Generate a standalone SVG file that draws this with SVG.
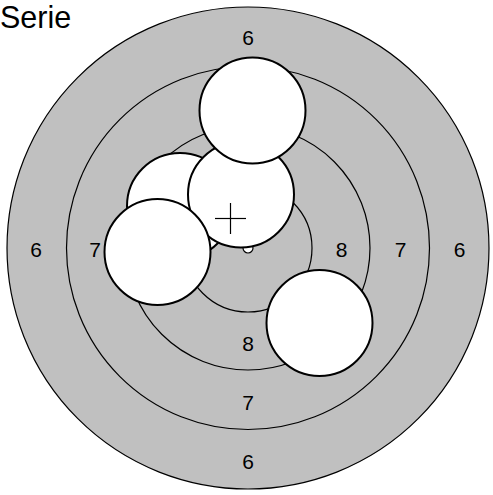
<svg xmlns="http://www.w3.org/2000/svg" width="493" height="495" viewBox="0 0 493 495">
<style>
.ring{fill:#c0c0c0;stroke:#000;stroke-width:1.2}
.shot{fill:#fff;stroke:#000;stroke-width:2}
.lbl{font-family:"Liberation Sans",Arial,sans-serif;font-size:21px;text-anchor:middle;fill:#000}
.title{font-family:"Liberation Sans",Arial,sans-serif;font-size:30.5px;fill:#000}
</style>
<rect width="493" height="495" fill="#fff"/>
<text class="title" x="0" y="27.5">Serie</text>
<g id="target">
<circle class="ring" cx="248" cy="248" r="241"/>
<circle class="ring" cx="248" cy="248" r="181.5"/>
<circle class="ring" cx="248" cy="248" r="122"/>
<circle class="ring" cx="248" cy="248" r="64"/>
<circle cx="248" cy="248" r="5" fill="#fff" stroke="#000" stroke-width="1.2"/>
</g>
<g id="labels">
<text class="lbl" x="248" y="44.5">6</text>
<text class="lbl" x="248" y="468.5">6</text>
<text class="lbl" x="248" y="410">7</text>
<text class="lbl" x="248" y="351">8</text>
<text class="lbl" x="36" y="256.5">6</text>
<text class="lbl" x="95" y="256.5">7</text>
<text class="lbl" x="341.5" y="256.5">8</text>
<text class="lbl" x="400.5" y="256.5">7</text>
<text class="lbl" x="459.5" y="256.5">6</text>
</g>
<g id="shots">
<circle id="shot2" class="shot" cx="180" cy="206" r="53"/>
<circle id="shot3" class="shot" cx="241" cy="194.5" r="53"/>
<circle id="shot1" class="shot" cx="252.5" cy="110.5" r="53"/>
<circle id="shot4" class="shot" cx="157.5" cy="252" r="53"/>
<circle id="shot5" class="shot" cx="319.5" cy="323" r="53"/>
</g>
<g id="mean" stroke="#000" stroke-width="1.2">
<line x1="215" y1="218.5" x2="246" y2="218.5"/>
<line x1="230.5" y1="203" x2="230.5" y2="234"/>
</g>
</svg>
